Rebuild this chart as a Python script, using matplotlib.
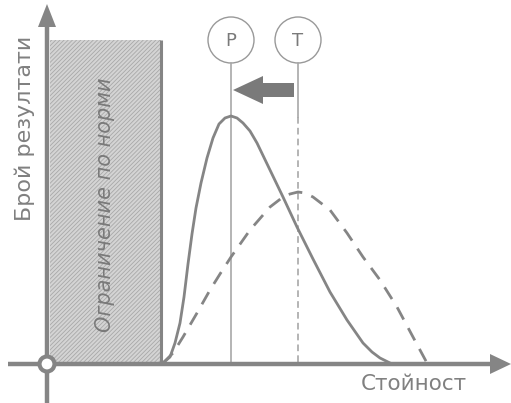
import numpy as np
import matplotlib.pyplot as plt
from matplotlib import patches

# coordenadas en pixeles (y hacia abajo)
realX = [163, 170, 175, 180, 184, 188, 192, 196, 201, 207, 213, 219, 225, 231,
         237, 243, 250, 257, 270, 283, 297, 313, 330, 347, 363, 372, 380, 390]
realY = [363, 357, 343, 323, 297, 264, 234, 208, 183, 158, 138, 124, 118, 116,
         118, 123, 131, 143, 170, 197, 227, 259, 292, 320, 343, 352, 358, 363]
objetivoX = [163, 173, 183, 197, 210, 220, 231, 250, 270, 283, 290, 298, 305,
             313, 330, 347, 363, 380, 397, 413, 427]
objetivoY = [363, 353, 337, 313, 290, 274, 257, 230, 207, 197, 194, 192, 193,
             197, 210, 233, 257, 280, 307, 337, 363]

etiquetaY = 'Брой резултати'
etiquetaX = 'Стойност'
etiquetaNorma = 'Ограничение по норми'
marcas = ['P', 'T']
posMarcas = [231, 298]

gris = '#858585'
plt.rcParams['hatch.linewidth'] = 0.6
plt.rcParams['hatch.color'] = '#a8a8a8'

fig = plt.figure(figsize=(5.11, 4.03), dpi=100)
ax = fig.add_axes([0, 0, 1, 1])
ax.set_xlim(0, 511)
ax.set_ylim(403, 0)
ax.axis('off')

# zona de la norma
rect = patches.Rectangle((50, 40), 111, 324, facecolor='#d4d4d4',
                         edgecolor='#a8a8a8', hatch='////////', linewidth=0)
ax.add_patch(rect)
ax.plot([161, 161], [40, 364], color=gris, lw=2.2, solid_capstyle='butt')
ax.text(105, 205, etiquetaNorma, rotation=90, ha='center', va='center',
        fontsize=15, style='italic', color='#7a7a7a')

# lineas verticales P y T
ax.plot([posMarcas[0], posMarcas[0]], [63, 364], color='#a8a8a8', lw=1.2)
ax.plot([posMarcas[1], posMarcas[1]], [63, 117], color='#a8a8a8', lw=1.2)
ax.plot([posMarcas[1], posMarcas[1]], [117, 364], color='#a8a8a8', lw=1.2,
        dashes=(4, 2.5))
for m, x in zip(marcas, posMarcas):
    ax.add_patch(patches.Circle((x, 40), 23, facecolor='white',
                                edgecolor='#999999', lw=1.0))
    ax.text(x, 41, m, ha='center', va='center', fontsize=13, color='#7a7a7a')

# flecha
ax.add_patch(patches.FancyArrow(294, 90, -61, 0, width=14, head_width=28,
                                head_length=30, length_includes_head=True,
                                color='#7a7a7a', lw=0))

# curvas
ax.plot(realX, realY, color=gris, lw=2.0)
ax.plot(objetivoX, objetivoY, color=gris, lw=2.0, dashes=(5, 3.5))

# ejes
ax.plot([8, 492], [364, 364], color=gris, lw=3.2, solid_capstyle='butt')
ax.plot([47, 47], [27, 403], color=gris, lw=3.2, solid_capstyle='butt')
ax.add_patch(patches.Polygon([[38, 27], [56, 27], [47, 4]], color=gris, lw=0))
ax.add_patch(patches.Polygon([[490, 354], [490, 374], [511, 364]], color=gris,
                             lw=0))
ax.add_patch(patches.Circle((47, 364), 7.5, facecolor='white', edgecolor=gris,
                            lw=3.0, zorder=5))

ax.text(25, 128, etiquetaY, rotation=90, ha='center', va='center',
        fontsize=16, color='#808080')
ax.text(414, 384, etiquetaX, ha='center', va='center', fontsize=15.5,
        color='#808080')

fig.savefig('out.png', dpi=100)
